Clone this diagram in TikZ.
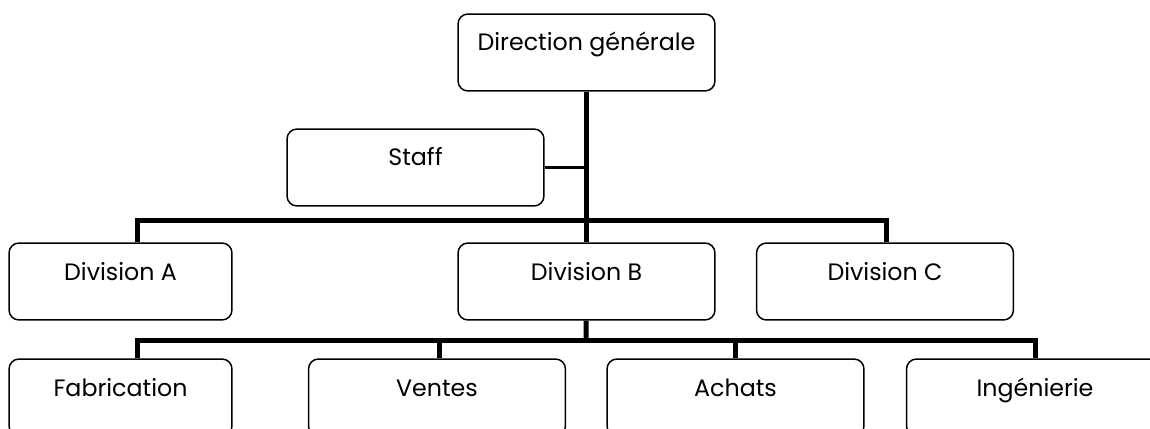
\documentclass[tikz,border=0pt]{standalone}
\usepackage{fontspec}
\setmainfont{Poppins}
\usetikzlibrary{positioning}

\begin{document}
\begin{tikzpicture}[x=0.02cm,y=-0.02cm,
  org node/.style={draw,rounded corners=0.2cm,line width=0.85pt,inner sep=0pt,
    minimum width=5.14cm,text height=0.74cm,text depth=0.80cm,
    font=\fontsize{13.5}{15}\selectfont},
  narrow/.style={minimum width=4.46cm}]

  \tikzstyle{link} = [draw,line width=0.1cm,-,line join=miter]

  \clip (0,0) rectangle (1150,429);

  \node[org node] (dg) at (586.5,52.5) {Direction générale};
  \node[org node] (staff) at (415.5,167.5) {Staff};
  \node[org node,narrow] (divA) at (120.5,281.5) {Division A};
  \node[org node] (divB) at (586.5,281.5) {Division B};
  \node[org node] (divC) at (885,281.5) {Division C};
  \node[org node,narrow] (fab) at (120.5,397.5) {Fabrication};
  \node[org node] (ventes) at (437,397.5) {Ventes};
  \node[org node] (achats) at (735.5,397.5) {Achats};
  \node[org node] (ing) at (1035,397.5) {Ingénierie};

  \coordinate (bus1) at (586,220);
  \coordinate (bus2) at (586,340);

  \draw[link] (dg) -- (divB);
  \draw[link,line width=0.08cm] (staff.east) -- (staff.east -| dg.south);
  \draw[link] ([xshift=0.35cm]divA.north) |- (bus1) -| ([xshift=0.02cm]divC.north);
  \draw[link] (divB) -- (bus2);
  \draw[link] ([xshift=0.35cm]fab.north) |- (bus2) -| (ing.north);
  \draw[link] ([xshift=0.04cm]ventes.north) -- ([xshift=0.04cm]ventes.north |- bus2);
  \draw[link] (achats.north) -- (achats.north |- bus2);
\end{tikzpicture}
\end{document}
